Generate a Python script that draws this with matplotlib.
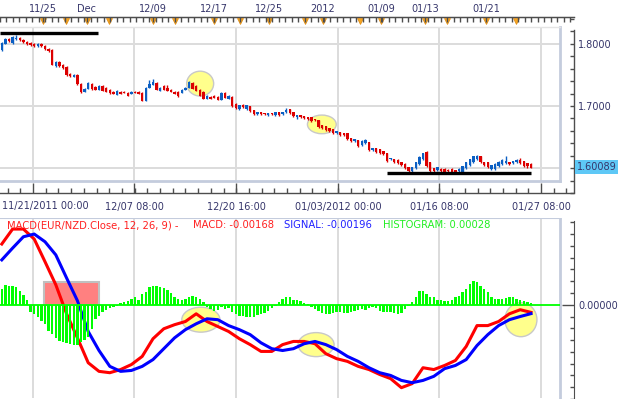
import numpy as np
import matplotlib
matplotlib.use("Agg")
import matplotlib.pyplot as plt
from matplotlib.patches import Ellipse, Rectangle

# ---------------- data: EUR/NZD 8h candles ----------------
opens = [
    1.7904, 1.8000, 1.8080, 1.8016, 1.8080, 1.8096, 1.8064, 1.8032, 1.8016, 1.8000,
    1.7968, 1.8000, 1.7968, 1.7920, 1.7904, 1.7648, 1.7712, 1.7664, 1.7632, 1.7520,
    1.7472, 1.7504, 1.7360, 1.7232, 1.7280, 1.7360, 1.7312, 1.7264, 1.7328, 1.7296,
    1.7264, 1.7232, 1.7184, 1.7232, 1.7232, 1.7216, 1.7200, 1.7232, 1.7232, 1.7216,
    1.7088, 1.7296, 1.7344, 1.7376, 1.7248, 1.7328, 1.7296, 1.7264, 1.7232, 1.7232,
    1.7216, 1.7264, 1.7296, 1.7376, 1.7328, 1.7264, 1.7232, 1.7120, 1.7152, 1.7168,
    1.7152, 1.7104, 1.7216, 1.7120, 1.7152, 1.7040, 1.6944, 1.7024, 1.6944, 1.6992,
    1.6928, 1.6864, 1.6896, 1.6880, 1.6848, 1.6880, 1.6848, 1.6896, 1.6864, 1.6896,
    1.6944, 1.6896, 1.6816, 1.6848, 1.6832, 1.6816, 1.6816, 1.6784, 1.6768, 1.6688,
    1.6672, 1.6640, 1.6624, 1.6560, 1.6576, 1.6560, 1.6560, 1.6480, 1.6432, 1.6448,
    1.6368, 1.6400, 1.6416, 1.6288, 1.6320, 1.6304, 1.6272, 1.6240, 1.6144, 1.6144,
    1.6128, 1.6096, 1.6064, 1.6016, 1.5952, 1.6000, 1.6064, 1.6144, 1.6256, 1.6096,
    1.6000, 1.5968, 1.5984, 1.5984, 1.5968, 1.5984, 1.5968, 1.5952, 1.5936, 1.6000,
    1.6048, 1.6096, 1.6144, 1.6192, 1.6096, 1.6096, 1.5984, 1.5984, 1.6032, 1.6064,
    1.6080, 1.6096, 1.6080, 1.6096, 1.6128, 1.6112, 1.6080, 1.6064,
]
highs = [
    1.8030, 1.8100, 1.8090, 1.8130, 1.8140, 1.8110, 1.8075, 1.8045, 1.8030, 1.8010,
    1.8015, 1.8010, 1.7980, 1.7930, 1.7915, 1.7725, 1.7725, 1.7680, 1.7645, 1.7530,
    1.7515, 1.7515, 1.7370, 1.7290, 1.7390, 1.7375, 1.7325, 1.7345, 1.7340, 1.7310,
    1.7275, 1.7245, 1.7260, 1.7245, 1.7245, 1.7230, 1.7245, 1.7240, 1.7240, 1.7225,
    1.7310, 1.7420, 1.7440, 1.7390, 1.7310, 1.7340, 1.7330, 1.7275, 1.7245, 1.7245,
    1.7275, 1.7310, 1.7410, 1.7390, 1.7340, 1.7275, 1.7240, 1.7180, 1.7165, 1.7180,
    1.7165, 1.7230, 1.7225, 1.7180, 1.7165, 1.7050, 1.7020, 1.7035, 1.7020, 1.7005,
    1.6940, 1.6905, 1.6905, 1.6890, 1.6890, 1.6890, 1.6905, 1.6905, 1.6905, 1.6960,
    1.6955, 1.6905, 1.6860, 1.6855, 1.6840, 1.6825, 1.6825, 1.6795, 1.6775, 1.6700,
    1.6685, 1.6650, 1.6635, 1.6605, 1.6585, 1.6570, 1.6570, 1.6490, 1.6475, 1.6460,
    1.6445, 1.6470, 1.6425, 1.6330, 1.6330, 1.6315, 1.6280, 1.6250, 1.6170, 1.6155,
    1.6140, 1.6105, 1.6075, 1.6025, 1.6025, 1.6105, 1.6190, 1.6250, 1.6270, 1.6105,
    1.6010, 1.6025, 1.5995, 1.5995, 1.5980, 1.5995, 1.5975, 1.5995, 1.6040, 1.6105,
    1.6155, 1.6200, 1.6210, 1.6200, 1.6105, 1.6105, 1.6055, 1.6075, 1.6110, 1.6140,
    1.6190, 1.6105, 1.6120, 1.6140, 1.6160, 1.6120, 1.6090, 1.6075,
]
lows = [
    1.7890, 1.7990, 1.8035, 1.8005, 1.8060, 1.8050, 1.8020, 1.7980, 1.7970, 1.7955,
    1.7955, 1.7950, 1.7905, 1.7870, 1.7655, 1.7620, 1.7635, 1.7600, 1.7490, 1.7470,
    1.7460, 1.7345, 1.7210, 1.7220, 1.7270, 1.7265, 1.7250, 1.7250, 1.7235, 1.7220,
    1.7200, 1.7190, 1.7175, 1.7185, 1.7205, 1.7155, 1.7190, 1.7205, 1.7190, 1.7080,
    1.7080, 1.7285, 1.7330, 1.7250, 1.7240, 1.7250, 1.7240, 1.7220, 1.7190, 1.7140,
    1.7205, 1.7255, 1.7285, 1.7270, 1.7240, 1.7155, 1.7105, 1.7105, 1.7110, 1.7125,
    1.7095, 1.7095, 1.7125, 1.7110, 1.6980, 1.6945, 1.6935, 1.6965, 1.6935, 1.6900,
    1.6855, 1.6855, 1.6855, 1.6855, 1.6840, 1.6855, 1.6840, 1.6840, 1.6855, 1.6885,
    1.6870, 1.6820, 1.6790, 1.6805, 1.6790, 1.6775, 1.6740, 1.6755, 1.6645, 1.6630,
    1.6595, 1.6580, 1.6550, 1.6550, 1.6520, 1.6515, 1.6455, 1.6420, 1.6425, 1.6340,
    1.6360, 1.6390, 1.6280, 1.6280, 1.6245, 1.6230, 1.6215, 1.6100, 1.6135, 1.6085,
    1.6070, 1.6035, 1.5990, 1.5940, 1.5945, 1.5990, 1.6055, 1.6135, 1.6020, 1.5940,
    1.5940, 1.5960, 1.5940, 1.5925, 1.5940, 1.5910, 1.5910, 1.5940, 1.5925, 1.5990,
    1.6040, 1.6085, 1.6135, 1.6085, 1.6040, 1.6005, 1.5975, 1.5975, 1.6025, 1.6055,
    1.6070, 1.6055, 1.6070, 1.6090, 1.6070, 1.6020, 1.6000, 1.6000,
]
closes = [
    1.8016, 1.8080, 1.8048, 1.8112, 1.8096, 1.8064, 1.8032, 1.8000, 1.7984, 1.7968,
    1.8000, 1.7968, 1.7920, 1.7888, 1.7664, 1.7712, 1.7648, 1.7616, 1.7504, 1.7488,
    1.7504, 1.7360, 1.7232, 1.7280, 1.7376, 1.7280, 1.7264, 1.7328, 1.7248, 1.7232,
    1.7216, 1.7200, 1.7248, 1.7200, 1.7216, 1.7168, 1.7232, 1.7216, 1.7200, 1.7088,
    1.7296, 1.7360, 1.7392, 1.7264, 1.7296, 1.7264, 1.7248, 1.7232, 1.7200, 1.7168,
    1.7264, 1.7296, 1.7392, 1.7280, 1.7248, 1.7168, 1.7120, 1.7168, 1.7120, 1.7136,
    1.7104, 1.7216, 1.7136, 1.7168, 1.6992, 1.6960, 1.7008, 1.6976, 1.7008, 1.6912,
    1.6864, 1.6896, 1.6864, 1.6864, 1.6880, 1.6864, 1.6896, 1.6848, 1.6896, 1.6928,
    1.6880, 1.6832, 1.6848, 1.6816, 1.6800, 1.6784, 1.6752, 1.6768, 1.6656, 1.6640,
    1.6608, 1.6592, 1.6560, 1.6592, 1.6528, 1.6528, 1.6464, 1.6432, 1.6464, 1.6352,
    1.6432, 1.6448, 1.6288, 1.6320, 1.6256, 1.6240, 1.6224, 1.6112, 1.6160, 1.6096,
    1.6080, 1.6048, 1.6000, 1.5952, 1.6016, 1.6096, 1.6176, 1.6240, 1.6032, 1.5952,
    1.5952, 1.6016, 1.5952, 1.5936, 1.5952, 1.5920, 1.5920, 1.5984, 1.6032, 1.6096,
    1.6144, 1.6192, 1.6192, 1.6096, 1.6048, 1.6016, 1.6048, 1.6064, 1.6096, 1.6128,
    1.6112, 1.6064, 1.6112, 1.6128, 1.6080, 1.6032, 1.6032, 1.6009,
]

# MACD(12, 26, 9) lines, read every 3rd bar
macd_bars = list(range(0, 148, 3))
macd_vals = [
    0.0134, 0.0167, 0.0167, 0.0145, 0.0095, 0.0044, -0.0020, -0.0073, -0.0128, -0.0147,
    -0.0150, -0.0143, -0.0132, -0.0114, -0.0075, -0.0053, -0.0044, -0.0037, -0.0020, -0.0037,
    -0.0048, -0.0059, -0.0075, -0.0088, -0.0103, -0.0103, -0.0088, -0.0081, -0.0081, -0.0086,
    -0.0108, -0.0119, -0.0125, -0.0136, -0.0143, -0.0154, -0.0163, -0.0183, -0.0174, -0.0139,
    -0.0143, -0.0134, -0.0123, -0.0092, -0.0046, -0.0046, -0.0037, -0.0020, -0.0011, -0.00168,
]
signal_vals = [
    0.0099, 0.0125, 0.0150, 0.0156, 0.0139, 0.0110, 0.0059, 0.0009, -0.0059, -0.0101,
    -0.0136, -0.0147, -0.0145, -0.0136, -0.0121, -0.0097, -0.0073, -0.0055, -0.0042, -0.0031,
    -0.0033, -0.0046, -0.0055, -0.0066, -0.0084, -0.0097, -0.0101, -0.0097, -0.0086, -0.0081,
    -0.0088, -0.0099, -0.0114, -0.0125, -0.0139, -0.0150, -0.0156, -0.0167, -0.0172, -0.0167,
    -0.0158, -0.0141, -0.0134, -0.0121, -0.0090, -0.0066, -0.0046, -0.0033, -0.0026, -0.00196,
]
hist_vals = [
    0.0022, 0.0028, 0.0027, 0.0027, 0.0025, 0.0020, 0.0014, 0.0007, -0.0010, -0.0013,
    -0.0017, -0.0022, -0.0027, -0.0036, -0.0041, -0.0046, -0.0050, -0.0052, -0.0053, -0.0055,
    -0.0056, -0.0056, -0.0052, -0.0049, -0.0045, -0.0034, -0.0020, -0.0015, -0.0010, -0.0007,
    -0.0004, -0.0003, -0.0001, 0.0003, 0.0004, 0.0006, 0.0008, 0.0011, 0.0007, 0.0015,
    0.0018, 0.0025, 0.0027, 0.0027, 0.0025, 0.0024, 0.0021, 0.0017, 0.0011, 0.0008,
    0.0007, 0.0008, 0.0011, 0.0013, 0.0011, 0.0008, 0.0004, -0.0003, -0.0006, -0.0008,
    -0.0007, -0.0003, -0.0006, -0.0004, -0.0010, -0.0013, -0.0015, -0.0015, -0.0017, -0.0017,
    -0.0017, -0.0014, -0.0013, -0.0011, -0.0008, -0.0004, -0.0001, 0.0004, 0.0008, 0.0011,
    0.0011, 0.0007, 0.0007, 0.0006, 0.0003, 0.0001, -0.0003, -0.0006, -0.0008, -0.0011,
    -0.0013, -0.0013, -0.0011, -0.0010, -0.0010, -0.0011, -0.0011, -0.0010, -0.0008, -0.0007,
    -0.0006, -0.0007, -0.0004, -0.0003, -0.0004, -0.0008, -0.0010, -0.0010, -0.0010, -0.0011,
    -0.0013, -0.0011, -0.0006, -0.0001, 0.0004, 0.0011, 0.0020, 0.0020, 0.0015, 0.0011,
    0.0011, 0.0007, 0.0007, 0.0006, 0.0006, 0.0007, 0.0011, 0.0013, 0.0018, 0.0022,
    0.0029, 0.0034, 0.0032, 0.0027, 0.0022, 0.0018, 0.0011, 0.0008, 0.0008, 0.0008,
    0.0010, 0.0011, 0.0011, 0.0008, 0.0007, 0.0006, 0.0004, 0.00028,
]

last_price = 1.60089
macd_last, signal_last, hist_last = -0.00168, -0.00196, 0.00028

bottom_labels = ["11/21/2011 00:00", "12/07 08:00", "12/20 16:00",
                 "01/03/2012 00:00", "01/16 08:00", "01/27 08:00"]
top_labels = ["11/25", "Dec", "12/09", "12/17", "12/25", "2012", "01/09", "01/13", "01/21"]
price_ticks = [1.6, 1.7, 1.8]

# hand drawn marks on the chart: (bar from, bar to, price), (bar, value, w, h)
level_lines = [(-0.5, 26.7, 1.8176), (107.0, 147.0, 1.5920)]
price_circles = [(55.1, 1.7360, 7.5, 0.040), (88.9, 1.6704, 8.0, 0.030)]
macd_circles = [(55.3, -0.0033, 10.6, 0.0055), (87.3, -0.0088, 10.0, 0.0053),
                (144.2, -0.0033, 8.9, 0.0075)]
macd_box = (11.7, 27.0, 0.0, 0.0051)

# ---------------- layout (pixels of the 624x399 picture) ----------------
W, H = 624, 399
BAR = 3.6
grid_px = [33, 134, 236, 338, 439, 541]
top_px = [43, 87, 153, 214, 269, 323, 381, 425, 486]
flag_px = [43, 66, 87, 109, 153, 175, 214, 240, 269, 305, 323, 360, 381, 425, 447, 486, 516]

NAVY = "#35356a"
AXIS = "#4d4d4d"
GRID = "#dcdcdc"
FRAME = "#c4ccdd"
UP = "#0b5fc3"
DOWN = "#dc0000"


def fx(px):
    return (np.asarray(px, dtype=float) - 1.8) / BAR


def py(y):
    return 1.8 - (y - 44) * 0.0016


def my(y):
    return (305 - y) * 0.00022


def hy(y):
    return (305 - y) * 0.00014


def box(l, t, r, b):
    return [l / W, 1 - b / H, (r - l) / W, (b - t) / H]


fig = plt.figure(figsize=(W / 100, H / 100), dpi=100)
fig.patch.set_facecolor("white")
grid_idx = fx(grid_px)
x = np.arange(len(opens))
x0, x1 = fx(0), fx(560)

# ---------------- price panel ----------------
ax1 = fig.add_axes(box(0, 17, 574, 193))
ax1.set_xlim(fx(0), fx(574))
ax1.set_ylim(py(193), py(17))

ax1.vlines(grid_idx, py(182), py(27), color=GRID, lw=1.4, zorder=0)
ax1.hlines(price_ticks, x0, x1, color=GRID, lw=1.4, zorder=0)
ax1.plot([x1, x1], [py(182), py(27)], color=FRAME, lw=2, zorder=1)
ax1.plot([x0, x1], [py(182), py(182)], color=FRAME, lw=2, zorder=1)
ax1.plot([x0, x1], [py(27.5), py(27.5)], color="#e4e4e4", lw=1, zorder=1)

for cx, cy, w, h in price_circles:
    ax1.add_patch(Ellipse((cx, cy), w, h, facecolor="#ffff8c", edgecolor="#c8c8c8",
                          lw=1, zorder=2))

colors = [UP if c >= o else DOWN for o, c in zip(opens, closes)]
ax1.vlines(x, lows, highs, colors=colors, lw=1, zorder=3)
ax1.bar(x, np.array(closes) - np.array(opens), bottom=opens, width=0.72,
        color=colors, linewidth=0, zorder=4)

for xa, xb, lvl in level_lines:
    ax1.plot([xa, xb], [lvl, lvl], color="black", lw=2.4, zorder=5, solid_capstyle="butt")

ax1.spines["left"].set_visible(False)
for s in ["top", "bottom", "right"]:
    ax1.spines[s].set_color(AXIS)
    ax1.spines[s].set_linewidth(1)
ax1.spines["right"].set_bounds(py(193), py(30))

ax1.yaxis.tick_right()
ax1.set_yticks(price_ticks)
# the 1.6000 label sits under the last-price tag
ax1.set_yticklabels([""] + [f"{v:.4f}" for v in price_ticks[1:]])
ax1.set_yticks(np.arange(1.56, 1.845, 0.02), minor=True)
ax1.tick_params(axis="y", which="both", direction="in", length=2.8, width=1,
                color=AXIS, labelsize=7, labelcolor=NAVY, pad=3)

step = fx(33 + 101.6 / 8) - fx(33)
ax1.set_xticks(grid_idx)
ax1.set_xticklabels([""] + bottom_labels[1:])
ax1.set_xticks(np.arange(fx(33) - 2 * step, fx(574), step), minor=True)
ax1.tick_params(axis="x", which="major", direction="in", length=7.5, width=1,
                color=AXIS, labelsize=7, labelcolor=NAVY, pad=6.5)
ax1.tick_params(axis="x", which="minor", direction="in", length=3.6, width=1, color=AXIS)
fig.text(2 / W, 1 - 206 / H, bottom_labels[0], ha="left", va="center",
         fontsize=7, color=NAVY)

axt = ax1.twiny()
axt.set_xlim(ax1.get_xlim())
for s in ["left", "right", "bottom"]:
    axt.spines[s].set_visible(False)
axt.spines["top"].set_color(AXIS)
axt.set_xticks(fx(top_px))
axt.set_xticklabels(top_labels)
axt.set_xticks(np.arange(fx(0), fx(574), 1.8), minor=True)
axt.tick_params(axis="x", which="both", direction="in", length=3.4, width=1,
                color=AXIS, labelsize=7, labelcolor=NAVY, pad=2)
ax1.plot(fx(flag_px), [0.975] * len(flag_px), transform=ax1.get_xaxis_transform(),
         ls="none", marker="v", ms=5, color="#f5a623", mec="#e08a10", mew=0.5,
         clip_on=False, zorder=6)

# last price tag
fig.patches.append(Rectangle((575 / W, 1 - 174 / H), 43 / W, 14 / H,
                             transform=fig.transFigure, facecolor="#5ec8f6",
                             edgecolor="none", zorder=10))
fig.text(577 / W, 1 - 167 / H, f"{last_price:.5f}", ha="left", va="center",
         fontsize=7, color=NAVY, zorder=11)

# ---------------- MACD panel ----------------
ax2 = fig.add_axes(box(0, 218, 574, 399))
axh = ax2.twinx()   # histogram is drawn over the lines, on its own scale
ax2.set_xlim(ax1.get_xlim())
ax2.set_ylim(my(399), my(218))
ax2.vlines(grid_idx, my(399), my(218), color=GRID, lw=1.4, zorder=0)
ax2.plot([x1, x1], [my(399), my(218)], color=FRAME, lw=2, zorder=1)
ax2.plot([x0, x1], [my(218.5), my(218.5)], color=FRAME, lw=1.5, zorder=1)

bx0, bx1, by0, by1 = macd_box
ax2.add_patch(Rectangle((bx0, by0), bx1 - bx0, by1 - by0, facecolor="#ff8080",
                        edgecolor="#c0c0c0", lw=1.5, zorder=1))
for cx, cy, w, h in macd_circles:
    ax2.add_patch(Ellipse((cx, cy), w, h, facecolor="#ffff8c", edgecolor="#c8c8c8",
                          lw=1, zorder=1.5))

ax2.plot(macd_bars, macd_vals, color="#ff0000", lw=2.2, zorder=3)
ax2.plot(macd_bars, signal_vals, color="#0000ff", lw=2.2, zorder=3)

for s in ["left", "top", "bottom"]:
    ax2.spines[s].set_visible(False)
ax2.spines["right"].set_color(AXIS)
ax2.spines["right"].set_bounds(my(399), my(221))
ax2.yaxis.set_ticks_position("right")
ax2.yaxis.set_label_position("right")
ax2.set_yticks([0.0])
ax2.set_yticklabels(["0.00000"])
ax2.set_yticks(np.arange(-0.0208, 0.0190, 0.0026), minor=True)
ax2.tick_params(axis="y", which="major", direction="in", length=8.5, width=1,
                color=AXIS, labelsize=7, labelcolor=NAVY, pad=3,
                left=False, labelleft=False, right=True, labelright=True)
ax2.tick_params(axis="y", which="minor", direction="in", length=3.2, width=1,
                color=AXIS, left=False, right=True)
ax2.tick_params(axis="x", which="both", bottom=False, labelbottom=False)

axh.set_ylim(hy(399), hy(218))
axh.bar(x, hist_vals, width=0.68, color="#00ff00", linewidth=0, zorder=3)
axh.hlines(0, x0, x1, color="#00ff00", lw=1.3, zorder=4)
for s in axh.spines.values():
    s.set_visible(False)
axh.set_yticks([])
axh.tick_params(axis="y", which="both", left=False, right=False,
                labelleft=False, labelright=False)
axh.tick_params(axis="x", which="both", bottom=False, labelbottom=False)

legend_parts = [
    (7, "MACD(EUR/NZD.Close, 12, 26, 9) -", "#ff2020"),
    (193, f"MACD: {macd_last:.5f}", "#ff2020"),
    (284, f"SIGNAL: {signal_last:.5f}", "#2020ff"),
    (383, f"HISTOGRAM: {hist_last:.5f}", "#22ee22"),
]
for px, txt, col in legend_parts:
    fig.text(px / W, 1 - 225 / H, txt, ha="left", va="center", fontsize=7.2, color=col)

fig.savefig("out.png", dpi=100, facecolor="white")
